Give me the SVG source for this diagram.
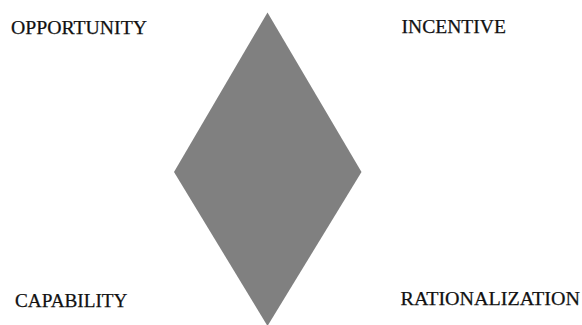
<svg xmlns="http://www.w3.org/2000/svg" width="582" height="325" viewBox="0 0 582 325">
<style>
.lbl{font-family:"Liberation Serif","DejaVu Serif",serif;font-size:19px;fill:#111111;stroke:#111111;stroke-width:0.25}
</style>
<rect width="582" height="325" fill="#ffffff"/>
<g id="diamond"><polygon points="267.5,12.5 361.5,172 267.5,326 174,172" fill="#808080"/></g>
<g id="connectors"></g>
<g id="opportunity"><text class="lbl" x="11" y="34" textLength="136" lengthAdjust="spacingAndGlyphs">OPPORTUNITY</text></g>
<g id="incentive"><text class="lbl" x="401.5" y="32.5" textLength="104.5" lengthAdjust="spacingAndGlyphs">INCENTIVE</text></g>
<g id="capability"><text class="lbl" x="15" y="306.5" textLength="112.5" lengthAdjust="spacingAndGlyphs">CAPABILITY</text></g>
<g id="rationalization"><text class="lbl" x="400.5" y="304.5" textLength="179.5" lengthAdjust="spacingAndGlyphs">RATIONALIZATION</text></g>
</svg>
